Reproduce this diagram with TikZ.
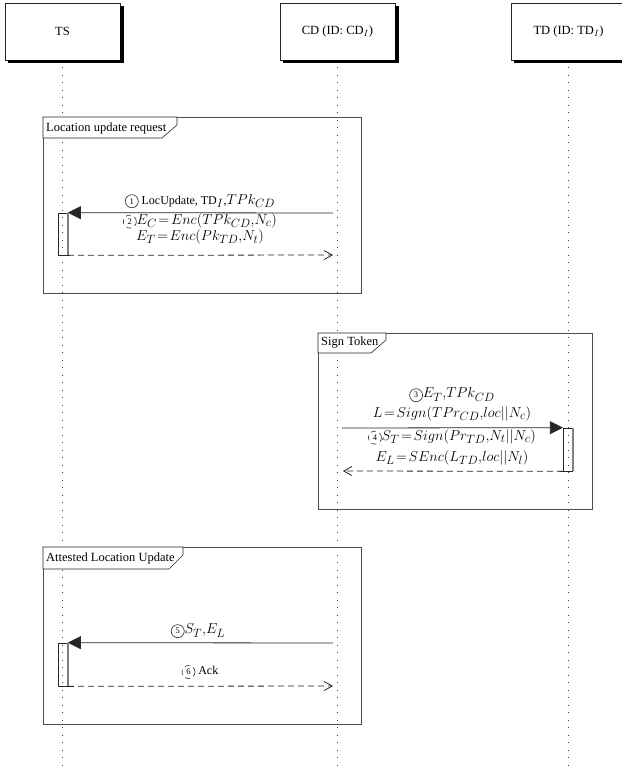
\documentclass[tikz,border=0pt]{standalone}
\usepackage{fontspec}
\setmainfont{Liberation Serif}
\DeclareMathSizes{12}{14}{11.5}{9}
\usetikzlibrary{arrows.meta}
\tikzset{
  numc/.style={circle, draw=black!85, line width=0.6pt, inner sep=0pt, minimum size=13pt, font=\fontsize{8.5}{9}\selectfont},
}
\newcommand\circnum[2][]{\tikz[baseline=(cn.base)]\node[numc,#1](cn){#2};}
\newcommand\headshadow[1]{%
  \fill[shadowbox] ([shift={(0pt,-3pt)}]#1.north east) rectangle ([shift={(3.5pt,-3pt)}]#1.south east);
  \fill[shadowbox] ([shift={(3.5pt,0pt)}]#1.south west) rectangle ([shift={(3.5pt,-3pt)}]#1.south east);}
\begin{document}
\begin{tikzpicture}[x=1pt,y=-1pt,
  head/.style={draw=black!85, fill=white, minimum width=115pt, minimum height=57pt, inner sep=0pt, line width=0.7pt,
    font=\fontsize{12.5}{14}\selectfont},
  shadowbox/.style={fill=black},
  lifeline/.style={draw=black!75, line width=0.7pt, dash pattern=on 0.8pt off 6.7pt},
  frame/.style={draw=black!70, line width=1pt},
  tab/.style={draw=black!85, line width=0.6pt, fill=white},
  tabtext/.style={anchor=west, inner sep=0pt, font=\fontsize{12.5}{14}\selectfont},
  act/.style={draw=black!85, line width=0.7pt, minimum width=9.5pt, inner sep=0pt},
  actedge/.style={draw=black!50, line width=1.6pt},
  msg/.style={draw=black!85, line width=0.8pt, -{Triangle[length=13pt,width=13pt]}},
  ret/.style={draw=black!85, line width=0.8pt, dash pattern=on 6pt off 4pt, -{Straight Barb[length=8pt,width=9pt,line width=0.8pt]}},
  lbl/.style={inner sep=0pt, font=\fontsize{12}{14}\selectfont},
  dcirc/.style={dash pattern=on 5pt off 4pt},
]
\useasboundingbox (0,0) rectangle (621,776);
\fill[white] (0,0) rectangle (621,776);
% heads
\node[head] (ts) at (62.5,31.5) {TS};
\node[head] (cd) at (337.5,31.5) {CD (ID: CD$_I$)};
\node[head] (td) at (568.5,31.5) {TD (ID: TD$_I$)};
\headshadow{ts}
\headshadow{cd}
\headshadow{td}
% lifelines
\coordinate (tsend) at (62.5,772);
\coordinate (cdend) at (337.5,772);
\coordinate (tdend) at (568.5,772);
\draw[lifeline] ([yshift=-7pt]ts.south) -- (tsend);
\draw[lifeline] ([yshift=-7pt]cd.south) -- (cdend);
\draw[lifeline] ([yshift=-7pt]td.south) -- (tdend);

% ---------- frame 1 ----------
\draw[frame] (43,117) rectangle (361,293);
\draw[tab] (43,117) -- (177,117) -- (177,125) -- (162,138) -- (43,138) -- cycle;
\node[tabtext] (f1) at (46,128) {Location update request};
\node[act, minimum height=42pt] (a1) at (62.75,234) {};
\draw[actedge] (a1.north east) -- (a1.south east);
\coordinate (c1) at (333,213);
\coordinate (c2) at (333,255);
\draw[msg] (c1) -- (a1.north east);
\draw[ret] (a1.south east) -- (c2);
\node[lbl] (m1) at (200,201) {\circnum{1} LocUpdate, TD$_I$,$TPk_{CD}$};
\node[lbl] (m2) at (200,221) {\circnum[dcirc]{2}$E_C\!=\!Enc(TPk_{CD},\!N_c)$};
\node[lbl] (m2b) at (200,237) {$E_T\!=\!Enc(Pk_{TD},\!N_t)$};

% ---------- frame 2 ----------
\draw[frame] (318,333) rectangle (592,509);
\draw[tab] (318,333) -- (386,333) -- (386,340) -- (371,353) -- (318,353) -- cycle;
\node[tabtext] (f2) at (321,343) {Sign Token};
\node[act, minimum height=43pt] (a2) at (568,449.5) {};
\draw[actedge] (a2.north east) -- (a2.south east);
\coordinate (c3) at (342,428);
\coordinate (c4) at (343,471);
\draw[msg] (c3) -- (a2.north west);
\draw[ret] (a2.south west) -- (c4);
\node[lbl] (m3) at (452,395) {\circnum{3}$E_T,\!TPk_{CD}$};
\node[lbl] (m3b) at (452,414) {$L\!=\!Sign(TPr_{CD},\!loc||N_c)$};
\node[lbl] (m4) at (452,437) {\circnum[dcirc]{4}$S_T\!=\!Sign(Pr_{TD},\!N_t||N_c)$};
\node[lbl] (m4b) at (452,458) {$E_L\!=\!SEnc(L_{TD},\!loc||N_l)$};

% ---------- frame 3 ----------
\draw[frame] (43,547) rectangle (361,724);
\draw[tab] (43,547) -- (183,547) -- (183,555) -- (169,569) -- (43,569) -- cycle;
\node[tabtext] (f3) at (46,558) {Attested Location Update};
\node[act, minimum height=43pt] (a3) at (62.75,664.5) {};
\draw[actedge] (a3.north east) -- (a3.south east);
\coordinate (c5) at (333,643);
\coordinate (c6) at (333,686);
\draw[msg] (c5) -- (a3.north east);
\draw[ret] (a3.south east) -- (c6);
\node[lbl] (m5) at (198,631) {\circnum{5}$S_T,\!E_L$};
\node[lbl] (m6) at (200,672) {\circnum[dcirc]{6} Ack};
\end{tikzpicture}
\end{document}
